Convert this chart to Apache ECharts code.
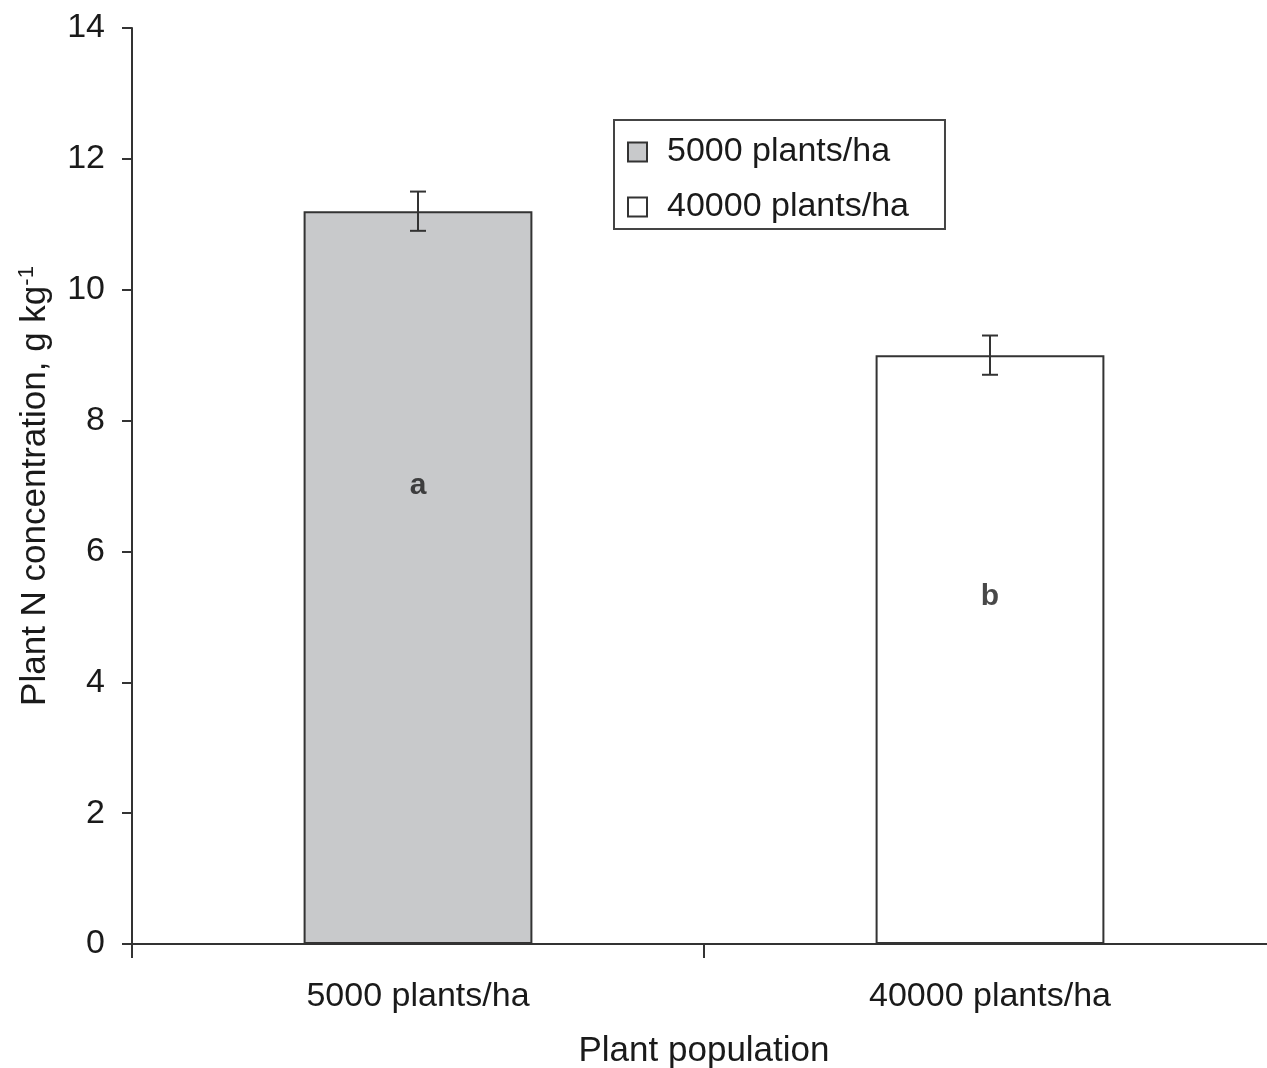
<!DOCTYPE html>
<html>
<head>
<meta charset="utf-8">
<script src="https://cdn.jsdelivr.net/npm/echarts@6/dist/echarts.min.js"></script>
<style>
  html, body { margin: 0; padding: 0; background: #fff; }
  #main { width: 1267px; height: 1068px; }
</style>
</head>
<body>
<div id="main"></div>
<script>
// data
var categories = ['5000 plants/ha', '40000 plants/ha'];
var means = [11.2, 9.0];
var errors = [0.3, 0.3];
var letters = ['a', 'b'];
var letterY = [7.0, 5.3];
var yTicks = [0, 2, 4, 6, 8, 10, 12, 14];

var font = 'Liberation Sans';
var ink = '#1a1a1a';
var chart = echarts.init(document.getElementById('main'));

var option = {
    backgroundColor: '#fff',
    animation: false,
    textStyle: { fontFamily: font },
    grid: { left: 132, right: -9, top: 28, bottom: 124, outerBoundsMode: 'none' },
    legend: {
        orient: 'vertical',
        left: 614,
        top: 120,
        padding: [15, 36, 5, 13],
        borderColor: '#444',
        borderWidth: 2,
        itemWidth: 19,
        itemHeight: 19,
        itemGap: 21,
        textStyle: { fontSize: 34, color: ink, fontFamily: font, padding: [0, 0, 0, 15] },
        data: [
            { name: categories[0], icon: 'rect', itemStyle: { color: '#c8c9cb', borderColor: '#333', borderWidth: 2 } },
            { name: categories[1], icon: 'rect', itemStyle: { color: '#fff', borderColor: '#333', borderWidth: 2 } }
        ]
    },
    xAxis: {
        type: 'category',
        data: categories,
        name: 'Plant population',
        nameLocation: 'middle',
        nameGap: 90,
        nameTextStyle: { fontSize: 35, color: ink, fontFamily: font },
        axisLine: { lineStyle: { color: '#333', width: 2 } },
        axisTick: { show: true, inside: false, length: 14, lineStyle: { color: '#333', width: 2 } },
        axisLabel: { fontSize: 34, color: ink, margin: 36, fontFamily: font }
    },
    yAxis: {
        type: 'value',
        min: 0,
        max: 14,
        interval: 2,
        name: '{n|Plant N concentration, g kg}{s|-1}',
        nameLocation: 'middle',
        nameGap: 78,
        nameRotate: 90,
        nameTextStyle: {
            rich: {
                n: { fontSize: 35, color: ink, fontFamily: font },
                s: { fontSize: 22, color: ink, fontFamily: font, verticalAlign: 'top', padding: [0, 0, 16, 0] }
            }
        },
        splitLine: { show: false },
        axisLine: { show: true, lineStyle: { color: '#333', width: 2 } },
        axisTick: { show: true, length: 10, lineStyle: { color: '#333', width: 2 } },
        axisLabel: {
            fontSize: 34, color: ink, margin: 27, fontFamily: font,
            formatter: function (v) { return yTicks.indexOf(v) >= 0 ? String(v) : ''; }
        }
    },
    series: [
        {
            name: categories[0],
            type: 'bar',
            stack: 'pop',
            barWidth: '40%',
            data: [means[0], '-'],
            itemStyle: { color: '#c8c9cb', borderColor: '#333', borderWidth: 2 }
        },
        {
            name: categories[1],
            type: 'bar',
            stack: 'pop',
            barWidth: '40%',
            data: ['-', means[1]],
            itemStyle: { color: '#fff', borderColor: '#333', borderWidth: 2 }
        },
        {
            name: 'error',
            type: 'custom',
            z: 10,
            data: means.map(function (m, i) { return [i, m - errors[i], m + errors[i]]; }),
            renderItem: function (params, api) {
                var lo = api.coord([api.value(0), api.value(1)]);
                var hi = api.coord([api.value(0), api.value(2)]);
                var half = 8;
                var st = { stroke: '#333', lineWidth: 2 };
                return {
                    type: 'group',
                    children: [
                        { type: 'line', shape: { x1: hi[0], y1: hi[1], x2: lo[0], y2: lo[1] }, style: st },
                        { type: 'line', shape: { x1: hi[0] - half, y1: hi[1], x2: hi[0] + half, y2: hi[1] }, style: st },
                        { type: 'line', shape: { x1: lo[0] - half, y1: lo[1], x2: lo[0] + half, y2: lo[1] }, style: st }
                    ]
                };
            }
        },
        {
            name: 'letters',
            type: 'scatter',
            symbolSize: 0,
            z: 11,
            data: letterY.map(function (y, i) { return [i, y]; }),
            label: {
                show: true,
                position: 'inside',
                fontSize: 30,
                fontWeight: 'bold',
                color: ink,
                fontFamily: font,
                formatter: function (p) { return letters[p.dataIndex]; }
            }
        }
    ]
};

chart.setOption(option);
</script>
</body>
</html>
